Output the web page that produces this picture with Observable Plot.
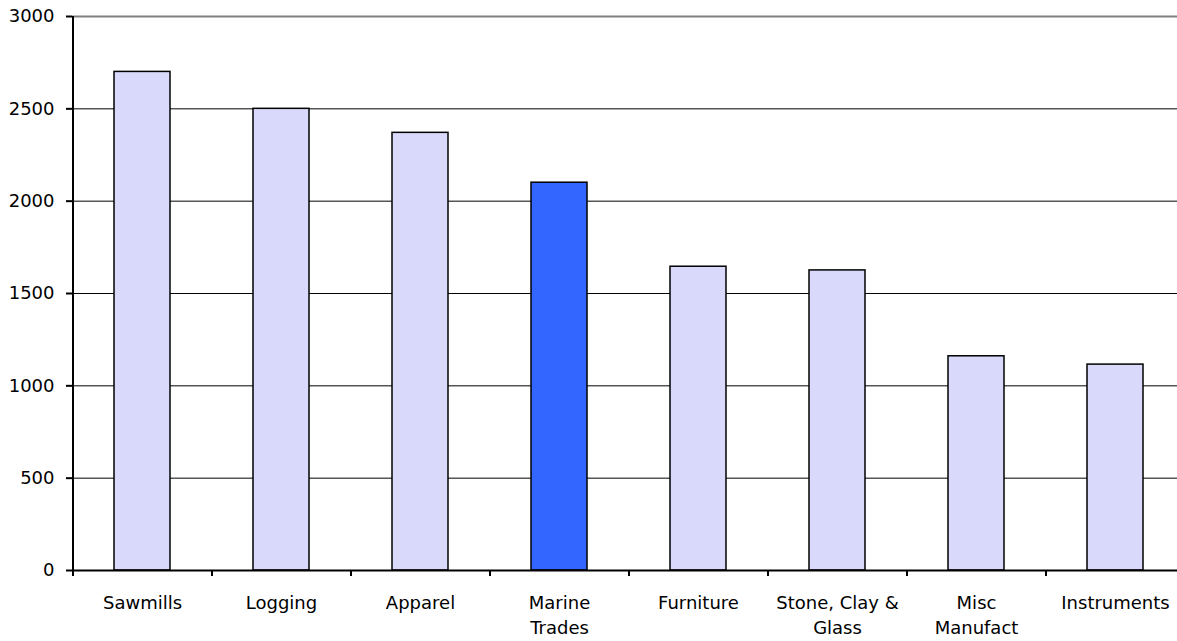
<!DOCTYPE html>
<html><head><meta charset="utf-8">
<script src="https://cdn.jsdelivr.net/npm/d3@7"></script>
<script src="https://cdn.jsdelivr.net/npm/@observablehq/plot@0.6"></script>
<style>html,body{margin:0;padding:0;overflow:hidden;background:#fff}</style>
</head><body><div id="chart"></div>
<script>
const categories = ["Sawmills","Logging","Apparel","Marine\nTrades","Furniture","Stone, Clay &\nGlass","Misc\nManufact","Instruments"];
const values = [2700,2500,2370,2100,1645,1625,1160,1115];
const highlight = "Marine\nTrades";
const yTicks = [0,500,1000,1500,2000,2500,3000];
const colors = {normal:"#D9D9FB", highlight:"#3366FF"};

const data = categories.map((c,i)=>({category:c, value:values[i]}));
const width = 1184, marginLeft = 72, marginRight = 0;
const step = (width - marginLeft - marginRight) / categories.length;

const plot = Plot.plot({
  width, height: 641, marginTop: 16, marginBottom: 71, marginLeft, marginRight,
  style: {fontFamily: "DejaVu Sans", fontSize: "18px", color: "#000", background: "#fff", maxWidth: "none"},
  x: {domain: categories, paddingInner: 0.6, paddingOuter: 0.3, label: null},
  y: {domain: [0, 3000], label: null},
  color: {type: "identity"},
  marks: [
    Plot.ruleY(yTicks.filter(v => v > 0 && v < 3000), {stroke: "#000", strokeWidth: 1}),
    Plot.ruleY([3000], {stroke: "#808080", strokeWidth: 2}),
    Plot.barY(data, {x: "category", y: "value",
      fill: d => d.category === highlight ? colors.highlight : colors.normal,
      stroke: "#000", strokeWidth: 1.5}),
    Plot.ruleX([categories[0]], {dx: -step/2, stroke: "#000", strokeWidth: 2}),
    Plot.ruleY([0], {stroke: "#000", strokeWidth: 2}),
    Plot.axisY({ticks: yTicks, tickFormat: d => String(d), tickSize: 6, tickPadding: 12, label: null, stroke: "#000", strokeWidth: 2}),
    Plot.axisX({tickSize: 6, dx: -step/2, tickFormat: () => "", label: null, stroke: "#000", strokeWidth: 2}),
    Plot.axisX({tickSize: 0, tickPadding: 20, lineHeight: 1.42, label: null})
  ]
});
document.getElementById("chart").appendChild(plot);
</script></body></html>
